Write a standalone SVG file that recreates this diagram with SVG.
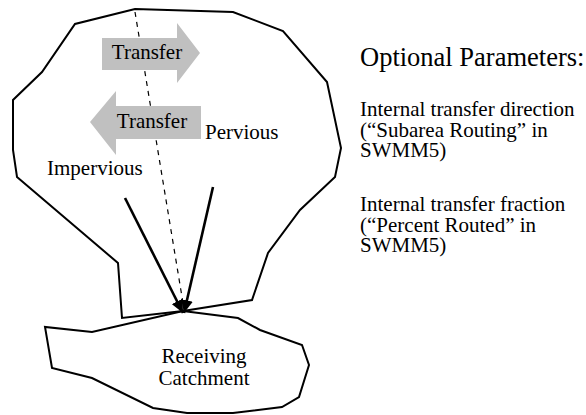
<svg xmlns="http://www.w3.org/2000/svg" width="586" height="415" viewBox="0 0 586 415">
<style>
  .outline { fill: none; stroke: #000; stroke-width: 2; stroke-linejoin: miter; }
  .lbl { font-family: "Liberation Serif", "Times New Roman", serif; font-size: 21px; fill: #000; }
  .title { font-family: "Liberation Serif", "Times New Roman", serif; font-size: 26.5px; fill: #000; }
  .transfer { fill: #c0c0c0; stroke: none; }
  .flow { stroke: #000; stroke-width: 2.6; fill: none; }
  .dash { stroke: #000; stroke-width: 1.2; stroke-dasharray: 5 5; fill: none; }
</style>
<defs>
  <marker id="ah" markerUnits="userSpaceOnUse" markerWidth="14" markerHeight="12" refX="13" refY="6" orient="auto">
    <path d="M0,0 L13,6 L0,12 z" fill="#000"/>
  </marker>
</defs>
<rect width="586" height="415" fill="#fff"/>

<g id="subcatchment">
  <polygon class="outline" points="135,9 233,12 283,31 327,82 341,148 335,177 300,210 268,253 252,300 183,311 122,318 118,263 17,177 13,150 13,100 42,72 75,24"/>
</g>

<g id="receiving-catchment">
  <polygon class="outline" points="183,311 238,318 260,330 302,345 309,365 299,397 282,407 233,413 187,413 153,408 92,378 52,368 45,327 92,332"/>
  <text class="lbl" x="204" y="363" text-anchor="middle">Receiving</text>
  <text class="lbl" x="204" y="385" text-anchor="middle">Catchment</text>
</g>

<g id="connectors">
  <line class="dash" x1="135" y1="12" x2="183" y2="303"/>
  <line class="flow" x1="125" y1="198" x2="183" y2="313" marker-end="url(#ah)"/>
  <line class="flow" x1="213" y1="187" x2="184" y2="313" marker-end="url(#ah)"/>
</g>

<g id="transfer-right">
  <polygon class="transfer" points="102,38 177,38 177,23 200,53 177,83 177,70 102,70"/>
  <text class="lbl" x="147" y="59" text-anchor="middle">Transfer</text>
</g>

<g id="transfer-left">
  <polygon class="transfer" points="201,106 116,106 116,91 90,122 116,155 116,139 201,139"/>
  <text class="lbl" x="152" y="128" text-anchor="middle">Transfer</text>
</g>

<g id="pervious">
  <text class="lbl" x="205" y="139">Pervious</text>
</g>
<g id="impervious">
  <text class="lbl" x="47" y="175">Impervious</text>
</g>

<g id="parameters">
  <text class="title" x="360" y="66">Optional Parameters:</text>
  <text class="lbl" x="360" y="116">Internal transfer direction</text>
  <text class="lbl" x="360" y="136.5">(“Subarea Routing” in</text>
  <text class="lbl" x="360" y="157">SWMM5)</text>
  <text class="lbl" x="360" y="211">Internal transfer fraction</text>
  <text class="lbl" x="360" y="231.5">(“Percent Routed” in</text>
  <text class="lbl" x="360" y="252">SWMM5)</text>
</g>
</svg>
